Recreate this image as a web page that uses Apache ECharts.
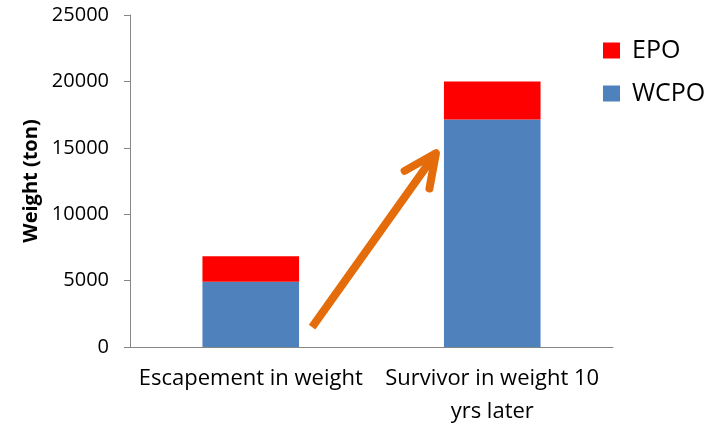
<!DOCTYPE html>
<html>
<head>
<meta charset="utf-8">
<script src="https://cdn.jsdelivr.net/npm/echarts@6/dist/echarts.min.js"></script>
<style>
  html, body { margin: 0; padding: 0; background: #fff; }
  #chart { width: 708px; height: 424px; }
</style>
</head>
<body>
<div id="chart"></div>
<script>
const categories = ['Escapement in weight', 'Survivor in weight 10\nyrs later'];
const wcpo = [4910, 17140];
const epo = [1930, 2860];
// arrow in data units: [x on 0..2 value axis, weight]
const arrowFrom = [0.754, 1500];
const arrowTo = [1.267, 14600];

const chart = echarts.init(document.getElementById('chart'));

function renderArrow(params, api) {
  const p0 = api.coord([api.value(0), api.value(1)]);
  const p1 = api.coord([api.value(2), api.value(3)]);
  const dx = p0[0] - p1[0], dy = p0[1] - p1[1];
  const len = Math.sqrt(dx * dx + dy * dy);
  const ux = dx / len, uy = dy / len;
  const headLen = 36, ang = 25 * Math.PI / 180;
  const rot = (a) => [ux * Math.cos(a) - uy * Math.sin(a), ux * Math.sin(a) + uy * Math.cos(a)];
  const a1 = rot(ang), a2 = rot(-ang);
  const style = { stroke: '#E46C0A', lineWidth: 8, lineCap: 'round', lineJoin: 'round', fill: null };
  return {
    type: 'group',
    children: [
      { type: 'line', shape: { x1: p0[0], y1: p0[1], x2: p1[0], y2: p1[1] }, style: Object.assign({}, style, { lineCap: 'butt' }) },
      { type: 'polyline', shape: { points: [
        [p1[0] + a1[0] * headLen, p1[1] + a1[1] * headLen],
        [p1[0], p1[1]],
        [p1[0] + a2[0] * headLen, p1[1] + a2[1] * headLen]
      ] }, style: style }
    ]
  };
}

chart.setOption({
  animation: false,
  textStyle: { fontFamily: 'Open Sans' },
  grid: { left: 130, right: 95, top: 15, bottom: 77, outerBoundsMode: 'none', containLabel: false },
  legend: {
    data: ['EPO', 'WCPO'],
    orient: 'vertical',
    left: 598,
    top: 33,
    itemWidth: 17,
    itemHeight: 16,
    itemGap: 18,
    icon: 'rect',
    textStyle: { fontSize: 25, color: '#000', fontFamily: 'Open Sans', padding: [0, 0, 0, 7] }
  },
  xAxis: [
    {
      type: 'category',
      data: categories,
      axisLine: { lineStyle: { color: '#868686' } },
      axisTick: { length: 6, lineStyle: { color: '#868686' } },
      axisLabel: { fontSize: 22, color: '#000', margin: 15, lineHeight: 33, interval: 0 }
    },
    { type: 'value', min: 0, max: 2, show: false }
  ],
  yAxis: {
    type: 'value',
    min: 0,
    max: 25000,
    interval: 5000,
    name: 'Weight (ton)',
    nameLocation: 'middle',
    nameGap: 88,
    nameTextStyle: { fontSize: 20, fontWeight: 'bold', color: '#000' },
    axisLine: { show: true, lineStyle: { color: '#868686' } },
    axisTick: { show: true, length: 6, lineStyle: { color: '#868686' } },
    splitLine: { show: false },
    axisLabel: { fontSize: 20, color: '#000', margin: 21, formatter: (v) => String(v) }
  },
  series: [
    { name: 'WCPO', type: 'bar', stack: 'w', data: wcpo, barWidth: '40%', itemStyle: { color: '#4F81BD' } },
    { name: 'EPO', type: 'bar', stack: 'w', data: epo, itemStyle: { color: '#FF0000' } },
    {
      type: 'custom',
      xAxisIndex: 1,
      renderItem: renderArrow,
      data: [[arrowFrom[0], arrowFrom[1], arrowTo[0], arrowTo[1]]],
      z: 5,
      silent: true
    }
  ]
});
</script>
</body>
</html>
